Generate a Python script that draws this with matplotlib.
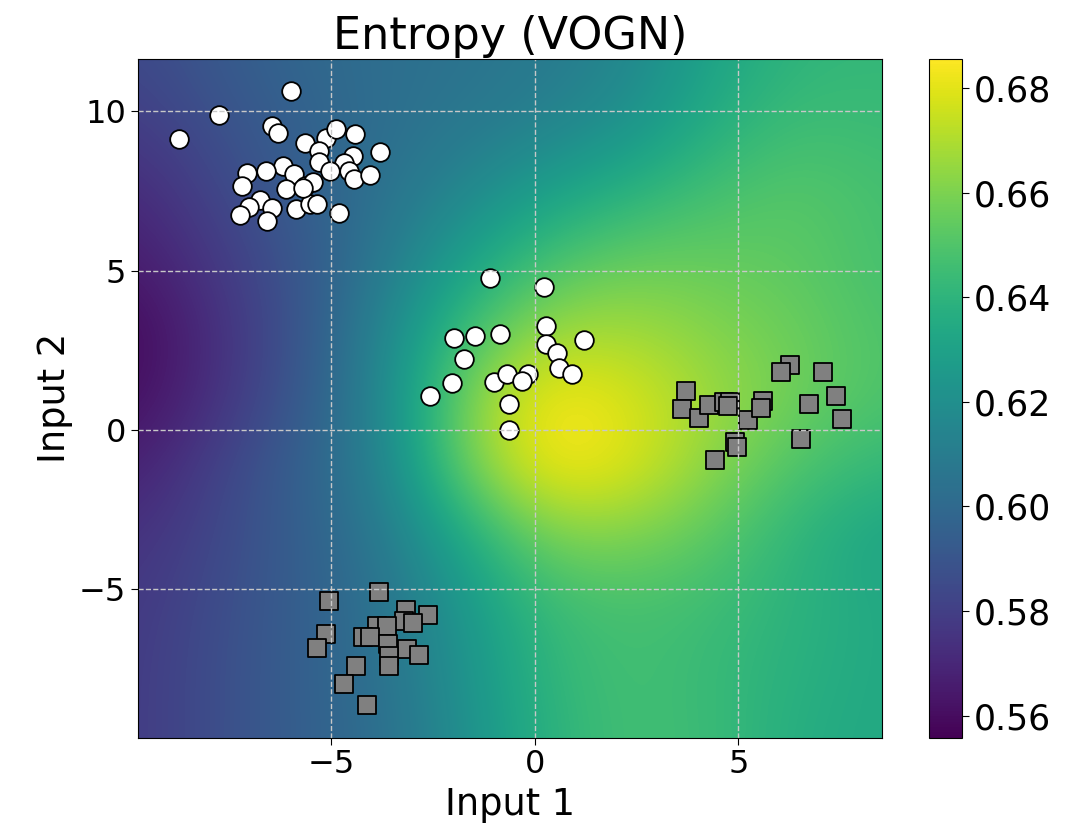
import numpy as np
import matplotlib
matplotlib.use("Agg")
import matplotlib.pyplot as plt

# ---------------- data ----------------
# entropy field sampled on a regular grid (rows top->bottom, cols left->right)
field_x = np.linspace(-9.74, 8.53, 10)
field_y = np.linspace(11.646, -9.64, 11)
entropy = [
    [0.584, 0.592, 0.599, 0.603, 0.605, 0.609, 0.616, 0.632, 0.641, 0.642],
    [0.578, 0.588, 0.596, 0.603, 0.608, 0.614, 0.623, 0.638, 0.646, 0.644],
    [0.571, 0.583, 0.595, 0.605, 0.617, 0.631, 0.640, 0.648, 0.652, 0.647],
    [0.565, 0.578, 0.591, 0.609, 0.631, 0.649, 0.656, 0.655, 0.653, 0.647],
    [0.558, 0.574, 0.590, 0.616, 0.647, 0.667, 0.668, 0.661, 0.656, 0.649],
    [0.560, 0.575, 0.592, 0.617, 0.662, 0.686, 0.678, 0.666, 0.657, 0.649],
    [0.567, 0.582, 0.596, 0.614, 0.660, 0.686, 0.679, 0.662, 0.649, 0.642],
    [0.574, 0.584, 0.595, 0.609, 0.636, 0.661, 0.661, 0.652, 0.640, 0.631],
    [0.577, 0.586, 0.595, 0.605, 0.626, 0.645, 0.648, 0.645, 0.639, 0.634],
    [0.578, 0.587, 0.595, 0.605, 0.623, 0.642, 0.647, 0.643, 0.638, 0.634],
    [0.578, 0.587, 0.595, 0.603, 0.621, 0.640, 0.647, 0.644, 0.636, 0.634],
]
vmin, vmax = 0.5558, 0.6857

class0_x = [-5.98, -7.74, -8.73, -6.45, -6.29, -5.63, -5.12, -4.87, -4.42, -3.79,
            -5.30, -4.46, -5.30, -4.69, -4.57, -5.02, -4.44, -4.05, -6.19, -6.59,
            -7.06, -5.92, -7.19, -6.11, -5.63, -5.45, -6.74, -7.02, -6.45, -7.23,
            -6.57, -5.85, -5.51, -5.34, -4.80, -5.70,
            -1.09, 0.23, 0.27, 0.27, 1.22, 0.56, 0.61, 0.91, -0.85, -1.46,
            -1.99, -1.73, -2.02, -2.57, -1.00, -0.68, -0.17, -0.31, -0.62, -0.62]
class0_y = [10.64, 9.89, 9.13, 9.52, 9.31, 9.00, 9.14, 9.44, 9.28, 8.72,
            8.76, 8.58, 8.39, 8.36, 8.13, 8.13, 7.87, 7.98, 8.29, 8.13,
            8.05, 8.01, 7.66, 7.54, 7.66, 7.79, 7.22, 7.00, 6.96, 6.75,
            6.55, 6.93, 7.09, 7.09, 6.81, 7.60,
            4.75, 4.47, 3.27, 2.71, 2.82, 2.42, 1.93, 1.74, 3.01, 2.95,
            2.87, 2.21, 1.46, 1.07, 1.49, 1.75, 1.77, 1.55, 0.81, 0.00]

class1_x = [3.71, 3.63, 4.04, 4.27, 4.64, 4.80, 4.75, 5.23, 5.62, 5.56,
            6.26, 6.06, 7.07, 7.40, 6.73, 7.55, 6.55, 4.93, 4.97, 4.44,
            -3.83, -5.04, -3.16, -2.61, -3.22, -2.98, -3.86, -3.62, -5.12, -4.21,
            -4.04, -3.61, -3.14, -2.83, -3.57, -3.57, -5.35, -4.39, -4.68, -4.12]
class1_y = [1.22, 0.66, 0.37, 0.78, 0.89, 0.89, 0.75, 0.31, 0.91, 0.70,
            2.04, 1.83, 1.83, 1.07, 0.83, 0.33, -0.28, -0.37, -0.52, -0.94,
            -5.08, -5.36, -5.64, -5.79, -6.00, -6.05, -6.16, -6.16, -6.39, -6.50,
            -6.50, -6.70, -6.87, -7.05, -7.10, -7.39, -6.82, -7.39, -7.95, -8.61]

colorbar_ticks = [0.56, 0.58, 0.60, 0.62, 0.64, 0.66, 0.68]
x_ticks = [-5, 0, 5]
y_ticks = [-5, 0, 5, 10]

# ---------------- figure ----------------
plt.rcParams['font.family'] = ['DejaVu Sans']
fig = plt.figure(figsize=(10.84, 8.32), dpi=100)
ax = fig.add_axes([138 / 1084, 1 - 737.5 / 832, (882 - 138) / 1084, (737.5 - 58.5) / 832])
cax = fig.add_axes([929 / 1084, 1 - 737.5 / 832, 33 / 1084, (737.5 - 58.5) / 832])

dx = field_x[1] - field_x[0]
dy = field_y[0] - field_y[1]
im = ax.imshow(np.array(entropy), cmap='viridis', vmin=vmin, vmax=vmax,
               interpolation='bicubic', origin='upper', aspect='auto',
               extent=[field_x[0] - dx / 2, field_x[-1] + dx / 2,
                       field_y[-1] - dy / 2, field_y[0] + dy / 2], zorder=0)

ax.scatter(class0_x, class0_y, s=180, marker='o', facecolor='white',
           edgecolor='black', linewidth=1.3, zorder=1)
ax.scatter(class1_x, class1_y, s=180, marker='s', facecolor='#808080',
           edgecolor='black', linewidth=1.3, zorder=1)

ax.set_xlim(-9.74, 8.53)
ax.set_ylim(-9.64, 11.646)
ax.set_xticks(x_ticks)
ax.set_yticks(y_ticks)
ax.grid(True, linestyle='--', color='#c8c8c8', linewidth=1.0)
ax.tick_params(labelsize=23, length=5)
ax.set_xlabel('Input 1', fontsize=26.5)
ax.set_ylabel('Input 2', fontsize=26.5)
ax.set_title('Entropy (VOGN)', fontsize=32)

cb = fig.colorbar(im, cax=cax, ticks=colorbar_ticks)
cb.ax.tick_params(labelsize=25, length=5)
cb.ax.set_yticklabels([f'{t:.2f}' for t in colorbar_ticks])

fig.savefig('out.png', dpi=100)
